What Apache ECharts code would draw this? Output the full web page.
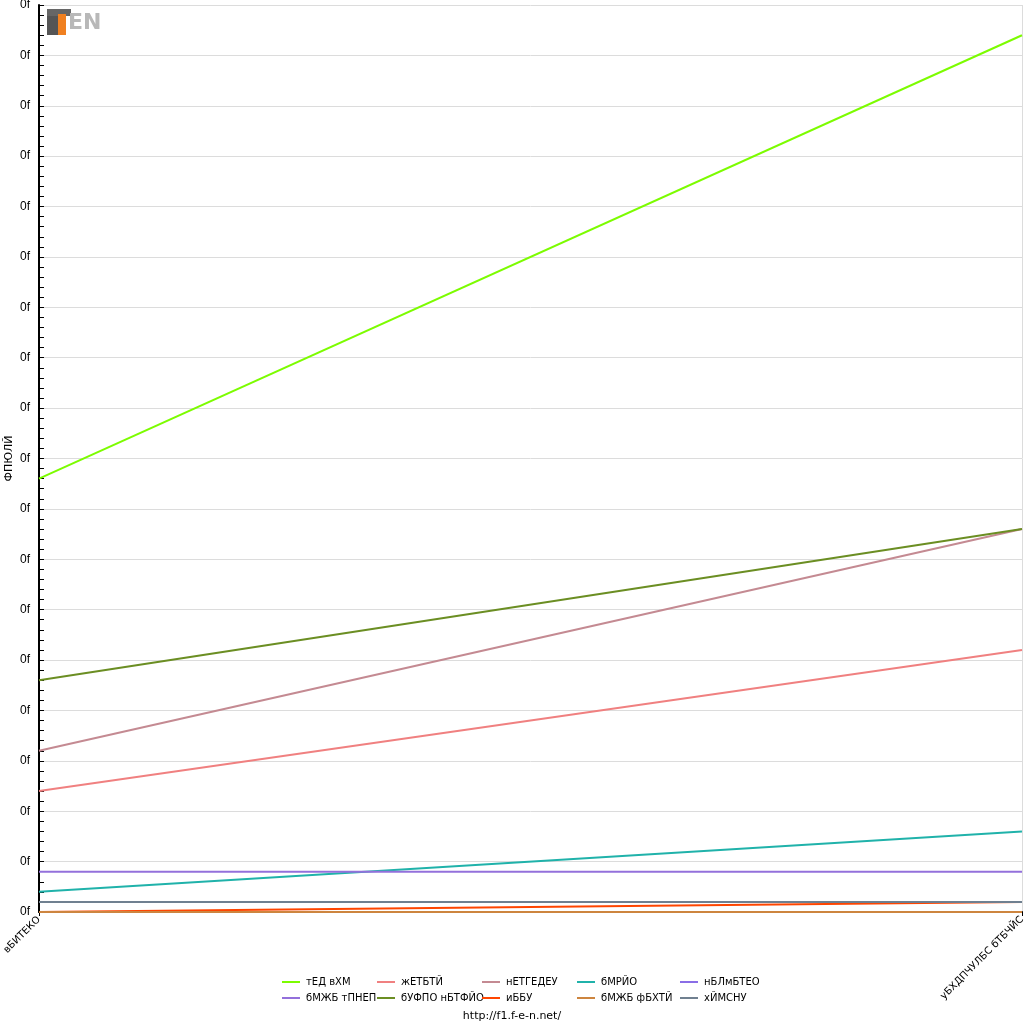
<!DOCTYPE html>
<html><head><meta charset="utf-8">
<script src="https://cdn.jsdelivr.net/npm/echarts@6/dist/echarts.min.js"></script>
<style>html,body{margin:0;padding:0;background:#fff}#c{width:1024px;height:1024px}</style>
</head><body><div id="c"></div>
<script>
const categories = ['вБИТЕКО', 'уБХДПЧУЛБС бТБЧЙС'];
const teams = ['тЕД вХМ', 'жЕТБТЙ', 'нЕТГЕДЕУ', 'бМРЙО', 'нБЛмБТЕО', 'бМЖБ тПНЕП', 'бУФПО нБТФЙО', 'иББУ', 'бМЖБ фБХТЙ', 'хЙМСНУ'];
const redBull = [43, 87];
const ferrari = [12, 26];
const mercedes = [16, 38];
const alpine = [2, 8];
const mclaren = [0, 0];
const alfaRomeo = [4, 4];
const astonMartin = [23, 38];
const haas = [0, 1];
const alphaTauri = [0, 0];
const williams = [1, 1];
const yTickLabel = '0f';
const yName = 'ФПЮЛЙ';
const footer = 'http://f1.f-e-n.net/';

const values = [redBull, ferrari, mercedes, alpine, mclaren, alfaRomeo, astonMartin, haas, alphaTauri, williams];
const colors = ['#7CFC00', '#F08080', '#C48A92', '#20B2AA', '#8A6EE6', '#9370DB', '#6B8E23', '#FF4500', '#CD853F', '#708090'];

const font = 'DejaVu Sans';
const colX = [282, 377, 482, 577, 680];
const legends = colX.map((x, i) => ({
  orient: 'vertical', left: x, top: 976,
  data: [teams[i], teams[i + 5]],
  icon: 'rect', itemWidth: 18, itemHeight: 2, itemGap: 4,
  padding: 0,
  textStyle: { fontFamily: font, fontSize: 10, color: '#000', lineHeight: 12, padding: [0, 0, 0, 1] }
}));

const chart = echarts.init(document.getElementById('c'));
chart.setOption({
  animation: false,
  color: colors,
  grid: { left: 39, right: 2, top: 5, bottom: 112, containLabel: false, outerBoundsMode: 'none' },
  legend: legends,
  xAxis: {
    type: 'category', data: categories, boundaryGap: false,
    axisLine: { lineStyle: { color: '#000', width: 2 } },
    axisTick: { show: true, length: 4, lineStyle: { color: '#000' } },
    splitLine: { show: true, lineStyle: { color: '#dcdcdc' } },
    axisLabel: { rotate: 45, fontFamily: font, fontSize: 10, color: '#000', margin: 6 }
  },
  yAxis: [{
    type: 'value', min: 0, max: 90, interval: 5,
    name: yName, nameLocation: 'middle', nameGap: 24, nameMoveOverlap: false,
    nameTextStyle: { fontFamily: font, fontSize: 11, color: '#000' },
    axisLine: { show: true, lineStyle: { color: '#000', width: 2 } },
    axisTick: { show: true, inside: true, length: 5, lineStyle: { color: '#000' } },
    splitLine: { show: true, lineStyle: { color: '#dcdcdc' } },
    axisLabel: { formatter: () => yTickLabel, fontFamily: 'Liberation Sans', fontSize: 12, color: '#000', margin: 9 }
  }, {
    type: 'value', min: 0, max: 90, interval: 1, position: 'left', offset: 0,
    axisLine: { show: false },
    axisTick: { show: true, inside: true, length: 5, lineStyle: { color: '#000' } },
    splitLine: { show: false },
    axisLabel: { show: false }
  }],
  series: teams.map((t, i) => ({
    name: t, type: 'line', data: values[i], symbol: 'none', yAxisIndex: 0,
    lineStyle: { width: 2, color: colors[i] }, itemStyle: { color: colors[i] }
  })),
  graphic: [
    { type: 'text', left: 'center', top: 1011, style: { text: footer, font: '11px ' + font, fill: '#000' } },
    { type: 'rect', shape: { x: 47, y: 9, width: 14, height: 26 }, style: { fill: '#555' } },
    { type: 'rect', shape: { x: 47, y: 9, width: 24, height: 7 }, style: { fill: '#666' } },
    { type: 'rect', shape: { x: 58, y: 14, width: 8, height: 21 }, style: { fill: '#F08020' } },
    { type: 'text', x: 68, y: 12, style: { text: 'EN', font: 'bold 22px ' + font, fill: '#b8b8b8' } }
  ]
});
</script></body></html>
